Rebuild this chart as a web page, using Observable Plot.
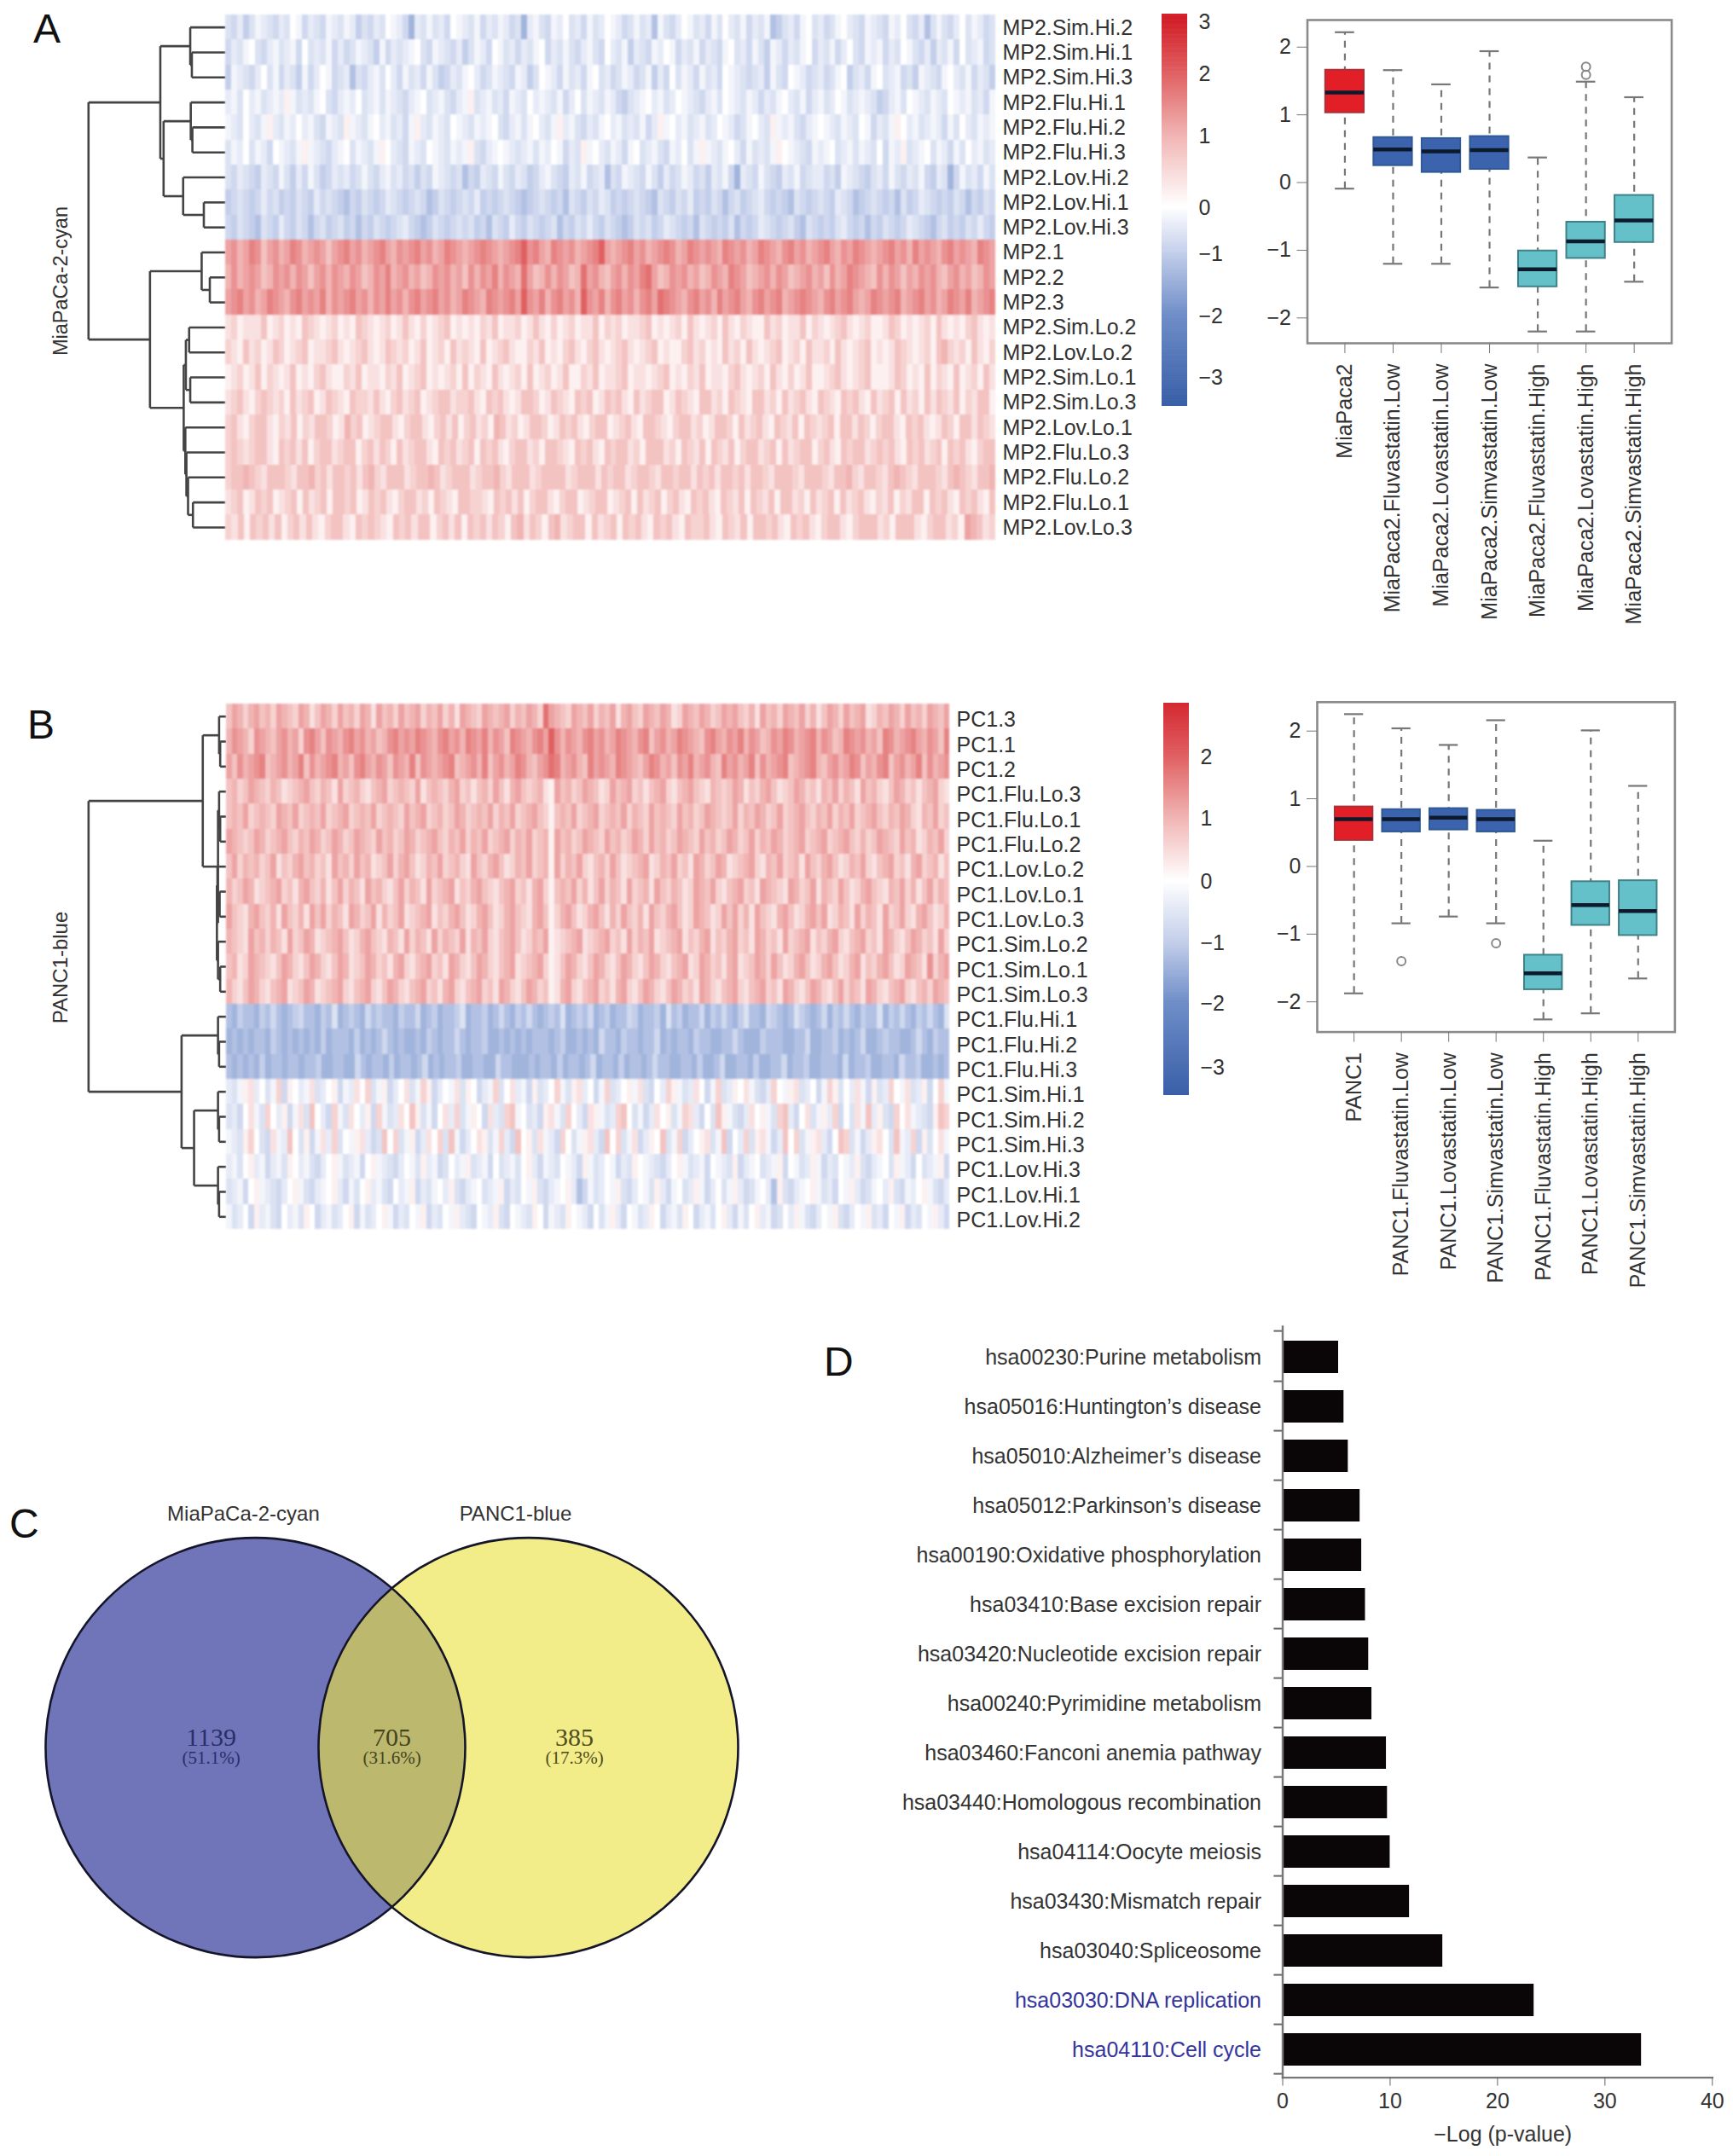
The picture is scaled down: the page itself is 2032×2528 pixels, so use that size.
<!DOCTYPE html>
<html><head><meta charset="utf-8">
<script src="https://cdn.jsdelivr.net/npm/d3@7"></script>
<script src="https://cdn.jsdelivr.net/npm/@observablehq/plot@0.6"></script>
<style>html,body{margin:0;background:#fff}#page{position:relative;width:2032px;height:2528px;overflow:hidden;font-family:"Liberation Sans",sans-serif}
.letter{position:absolute;font-size:48px;line-height:1;color:#111}</style></head><body><div id="page"></div>
<script>
// Heatmap rows: one letter per block of columns; the letter is a level from heatLevels.
// Row levels and prominent stripes are read from the picture; fine stripe texture is a rough by-eye estimate.
const heatLevels = {a:-2,b:-1.8,c:-1.6,d:-1.4,e:-1.2,f:-1,g:-.8,h:-.6,i:-.4,j:-.2,k:0,l:.2,m:.4,n:.6,o:.8,p:1,q:1.2,r:1.4,s:1.6,t:1.8,u:2};
const rowsA = ["MP2.Sim.Hi.2","MP2.Sim.Hi.1","MP2.Sim.Hi.3","MP2.Flu.Hi.1","MP2.Flu.Hi.2","MP2.Flu.Hi.3","MP2.Lov.Hi.2","MP2.Lov.Hi.1","MP2.Lov.Hi.3","MP2.1","MP2.2","MP2.3","MP2.Sim.Lo.2","MP2.Lov.Lo.2","MP2.Sim.Lo.1","MP2.Sim.Lo.3","MP2.Lov.Lo.1","MP2.Flu.Lo.3","MP2.Flu.Lo.2","MP2.Flu.Lo.1","MP2.Lov.Lo.3"];
const rowsB = ["PC1.3","PC1.1","PC1.2","PC1.Flu.Lo.3","PC1.Flu.Lo.1","PC1.Flu.Lo.2","PC1.Lov.Lo.2","PC1.Lov.Lo.1","PC1.Lov.Lo.3","PC1.Sim.Lo.2","PC1.Sim.Lo.1","PC1.Sim.Lo.3","PC1.Flu.Hi.1","PC1.Flu.Hi.2","PC1.Flu.Hi.3","PC1.Sim.Hi.1","PC1.Sim.Hi.2","PC1.Sim.Hi.3","PC1.Lov.Hi.3","PC1.Lov.Hi.1","PC1.Lov.Hi.2"];
const heatA = [
"hgifhjihgi hkjgihgjih jifhgihkji gdihjhigkj ihjgihjigh dijhgjikhi gjhikjighj hiejhgikjh igjhkihjgi hjefhigjkh ighjkihgji hgjikhgieh jhgikhjigh",
"gihjkhgijh ijgkhihjgi ghjihfjgih ijkhgjihgi fhjigkjhig ihjkgihjhg ijhgkihjfi hgjikjgihj gihgjkhigj hfjigihjkg ihjgikhgji jgihkjhgif ihjgkhijgh",
"fjihgikhjg ihfjgikjgh iehgijhkig jhigjhfgih jkighjihgj ifhkjigjhi gjkhighjig hjfigkhjig jhigkjihgh ifjhgkjigh ighjkfhigj khijghfjih gjkihjgihf",
"ijhkijhiji ljhihjkhgi jikhijhjih gijkhijhgi jlhijhigji hkijihjgik hjihjigfhi jkijhikjih gijhkjihji gihjkihjgi jhikjhijih fgijhkjihj ihkjijhigj",
"jihkihjlih jikijhgjih ljihjkijhi gjlihjihkj ihjijkhgij hjkihjlijh gihjkijhih jgiljkijhi jhikjighjk ihljijhgij kjihjihkjg ihjlkijhij igjhkihjij",
"hjikhjigkj ihjljihgij khjihjlkih gjihkjihji jlhgijkjih ijhjikjgih ljkihjigjk hijhgjikhj ljihjkigjh ihjlkjihgj ijkhijhjih kgjilhijkh jigjhkijhi",
"hgihgfihgj hfigjhfgih ighjhgijhi ghfhgjihgh egfihgjhgi hfgijhgfih jghiehgjih gjhfighjig hfihjgdihg jhgfihjghi ighfjihgfh igjhgihjgf ihdgjhigjh",
"fghgfgighf gfhgfighgf egfhgfgihg fghgefhgfg hgifgfghgf efghgfgehg fhgihfgfgh gfehgfhgif gfhgeghfgh igfgfehgfg hgfihgefgh gfgehfgihg fgfhgegfhg",
"gfhgfehgfi gfhgeghfgh fgegfhgfgh igfefhgfgh ghfgehgfig fhgfghegfh gigfhgfefh ghfgihgfge hgfgfhegfg ihgfghfehg fgfhigfgeg fhgfgihgfe ghfgfhgigf",
"qrpqsroqrp qsrpqrqoqr sqrpqrsqpr qrsqrpqsrq pqrsrqpqrs ursqpsrqrp qrsuqpqrsq rpqrsrpqsr qrqpsrqrpq srqprsqrpq rsqprqsrqp qrsqrpsqrq prsqrqpsrq",
"prpqrqoprq rprqoqrprq prqoprqspq rpqoprqrpq orprqsprqp tqoprprqop tqrpoqrprq stqoprqrpq oprqpsrqop qrprqopqrp qorpqsrqpo rprqoqprqr poqrpqoprq",
"qrsqrpqsrq prsqrqsprq rsqrprqsqr prsqrsqrpq srqpsrqrsq urqsprsqrp urqsprsqrp rsqtsrqprs qrpsqrsqpr sqrspqrsrq prsqrsqpqs rqrspqrsqr pqsrqspqrs",
"mnlmmmolmn lmlonmlmnl mlonmlmnlm omlnlmnolm lmlnmolmmn lmomlnlmnl mmolnmnlmm nolmlmnlom lmnlomlnml lomnlmmoln mlmnomlmnl lmonlmlmnl omlmlnomlm",
"nmlomnlmon lmnolmmnom lmnomlmonm nlmolmnlom nmlolmnoml lnmolmlnom lnomlmnoml mnolmllnom nlmlomnlom lmnolmnlom mnlomlmnol mlmonmlmnl opnmnlomln",
"lmnlmolnml molmlnomll nmolmmlnmo lmnolmlmnl olnmlomlmn lolmnlmoll nmolmmnolm mlmnolmlnm olmmlnomlm nlomlnlmol lmnomlmnol llmonlmlol nmlolmnlom",
"mnomlnonmn lomnolmonm lonnmomlno mnolmnoomn nomlonomlm oonlmonmlo nolmonomlo mnoolmonml oomnlonmlo omnlomnoml onmlonomlo mnolomnlom onmolnmool",
"nomlnoomln molnmoonl mpnolmnoom lnoomlnomo lnomnlpomn lmoonlmono mlnoolmnom loonmlnoom nlmoonlomn omlonmolon mnoloomonl noomlonoml monloomonm",
"nonmnoomlo nomolnoomn oolnomonlo mnoomlonom nolonomlno omnloonmlo nomlonoomn looomnlonm olonmolnoo mnolomnool nomlonoomn onomlonomn olonomlnoo",
"nooponmooo nmoopnomoo nomopnmooo mnoopomnoo omnoopnmoo omnoooomno oomonoomn oonmoonoom onomoonomo onmooonmoo onmoopnmoo nmoponmooo nmoponmoop",
"mnolmonolm nolomnoloo nolmonomln oomnlonmlo onnmlonomo lnoomlnool mnoolmnolo mnolnomlon omlonmolo nmoloomnlo mnolomnoml nmolnmoolo nomlonomlo",
"nmolonomol nomomlnoom lononmlono moolnomolo nomonlopm onlopmnool omnolonom lonomlonn omlonmolo onomlonom lnoomlnoo omnlooomln oomnlqpomn"
];
const heatB = [
"oqpnpqopnq ponqpmoqpn qopnqpmqop nqopqnpoqn pmqponqpop qnpoqpntqp onqpoqnpoq mpqonqpoqp mnqpoqpnoq pqonpmqopn qpoqnpmoqp nqopqmnpoq pnqopnqpoq",
"prqpnrqpoq rpqnrsqorq prsqrpqopr sqrqsrqprs qrpsrqsprq osrqprsqur prqprsqrpq srqprsoqrp qsrqporsqp rqsprqoprq srpqrsprqo psrqrpqosr pqrsqprqos",
"qorpqrsopq rpqsorpqrs pqorsqprqo rqpsorqpqr sopqrpsoqr pqsrpoqrts pqrposqrqp srqpoqsrpq orqspqrpos qrpqsorpqr sopqrspoqr pqsroqprso qrpqsorpqr",
"opnoqponpo mnopqonpom qnopnmopqn oponqmopon pqnomopnqo mpqonopmlq opnoqpomnq opqnomopqn mopqonmpon oqpmonpqom noqpnompoq npomqopnmo qpnomopqnm",
"opoqnoponq poqnopoqno pqnopoqnop onqopqnopn oqpnopoqnp oqnopqonlo poqnopqnop oqnponqopo nqopnoqpon oqnpoqpnoq nopqonpoqn poqnopqonp oqpnmpoqno",
"qponoqpnop qonpoqpnoq pnoqponqop noqpnopqon poqnpoqnop qnpoqnoplq opnoqponqo pnoqpnqopn oqponqopno qpnoqnpoqp nopqnopqno pqonpnoqpo nqopmnpoqn",
"oqnpopnoqm onpqopnomq opnqopmnoq npqomnpoqn opnmqonpqo mnpoqnoplq npoqnmopnq omnopqmnpo qnomqpnoqp mnopqnmpoq nopmqonpqo mnpoqnmopq nompqnopmo",
"pnoqpmnopq nompqonpmo qnpomqopnm oqnpomqnop qmonpqonmo pqnompqnlo poqnpmoqnp omqnopmqon pomnqpoqnm opqnomqpon mqpnoqmpon qomnpqonmp oqnpmoqnpo",
"qonmpqonpm qonpmqoqnp omqpnoqmpn oqmnopqmon pqomnpqomn pqonmpqoln pqomnpqomp nqonpmqonp qomnqpomnq oqnpmqonmp qomnpqoqmn pomqnpomqn oqnmpqomnp",
"ponmqopnpo mqnoqpmnop qomnpqonmp omqnpomqnp onqmpoqnmo pqomnpoqlm nopqmnopqn omqnpoqmno pqmonpqmon pqnomqpnom qnopqmonpq nmopqnomqp nmoqpnomqn",
"opmnqponmo qpnmoqpnmo qpmnoqpnom pqnmopqnom qpnmoqpnmo pqmnopqnlm oqpnmoqpnm oqpnmoqpnm opqmnqpnom pqmnoqpnqo mnpqomnpqo mnpqmonpqo mnqpomrnpq",
"pnmoqpnmop qmnoqpmnop qnmopqnmoq pnmopqnomp qnmopqnomq pnmoqpnolm pqnmopqnom pqnmoqpnmo qpnomqpnmo pqnmopqnom qpnmoqpnmo qnpomqpnmo pqnmopnqpo",
"edfeedfege defgeedfeh defedgefee dfeegdefde efhdeefdeg edfegedefe hdefegdefd eegfdeefdh efdeegdfeg edfheedgfe dehfedegdf egedfeehdf egedfegedh",
"dededeedfe dedededfde eedfdedege deddedfede egedeefdde dededeeede fddededgee dfeedeegde deedfeedde egedddfeee ddeegddeef dedegddefe eddegedfee",
"edededfdee deedeefdde eddgedeedf deedegdede efddeeddge edddedeedf deedegdee dfdeedegee ddeedfddeg ddeedfddee gdeefddeee dgdeefddee dgeefddede",
"ihjlmikhjn glkijmhikl gjimknhjlg ikmhjnlgik jmhlkgijnh kmijglhikn jhlmikgjnh ikljmhgkin ljhimkgjnh ilkmjhgink jlmhikgjnl hkimjglhin kjmhilgknj",
"higkmjhnki lgjmhokign jhmkilgnjh imkolhjgkm inhjlkgmih nojkhiglmj hnkigmljhi nokhjgimkl hjnmigkhol jhgimkljhn oigkmhjlin gkhmjoilhg nkmjihglon",
"jihlnkhgmj iokhlgjmin hkjlmighok nhjlgimknh ojgikmlhjn igoklhmjig nkhjlmigok nhjmgilkoh jngiklmhjo gkinhlmjgi oknhjlmigk onhjgilmkh ojinglhkmj",
"ijhklijgij hlkijhgikl jhijgkljih gikjhlijgh kijlhijgkh ijhkligjih kjigljhikj gihlkjihgi kljhijgkji hlgijkhijl gkjhiljgih kjilhgijkh ljigkhijlg",
"hijgkljihg ikljhgijkl igjhklijhg kijlgihjki lhgijkhijl gihkjlhgij kliegjhikj lhgikjhlig jkhiljgikh jlighjkiel hgijkljhig kjlighjkil hgjikljhgi",
"jhikglijhg kijhlkgijh iklgjhiklj gihkjlgihk jlihgkjilh gkjihlkgji hlkjigkhjl igkjhilkgi jhlkgijhkl igjhklijgh kiljhgikjl hgikjlhigk jlgihkjlig"
];
const colorStops = [-3.45,-2,-1,0,1,2,3];
const colorRange = ["#3a5fa8","#6f8ec8","#c3ceea","#ffffff","#f0b4b3","#e06062","#d3202a"];
const barTicks = [-3,-2,-1,0,1,2,3];
const barA = {values:[3.15,3,2,1,0,-1,-2,-3,-3.48], pos:[0,9,70,143,227,281,354,426,460]};
const barB = {values:[2.875,2,1,0,-1,-2,-3,-3.44], pos:[0,63,135,209,281,352,427,460]};
// Dendrograms: [merge height, child, child]; a bare number is a row index.
const treeA = [252,[120,[65,0,[62,1,2]],[114,[64,3,[61,4,5]],[78,6,[40,7,8]]]],[139,[44,9,[29,10,11]],[77,[73,[67,12,13],[65,14,15]],[74,16,[72,17,[69,18,[60,19,20]]]]]]];
const treeB = [253,[43,[13,0,[11,1,2]],[15,[13,3,[11,4,5]],[17,[16,6,[12,7,8]],[15,9,[11,10,11]]]]],[82,[15,12,[13,13,14]],[59,[15,15,[13,16,17]],[15,18,[13,19,20]]]]];
// Box plots
const boxNamesA = ["MiaPaca2","MiaPaca2.Fluvastatin.Low","MiaPaca2.Lovastatin.Low","MiaPaca2.Simvastatin.Low","MiaPaca2.Fluvastatin.High","MiaPaca2.Lovastatin.High","MiaPaca2.Simvastatin.High"];
const hiA=[2.22,1.66,1.45,1.94,.37,1.49,1.26], q3A=[1.66,.665,.65,.68,-1.01,-.585,-.19], medA=[1.33,.49,.46,.48,-1.28,-.87,-.56], q1A=[1.03,.25,.15,.195,-1.54,-1.12,-.885], loA=[-.09,-1.2,-1.2,-1.55,-2.2,-2.2,-1.465];
const outA=[[6,1.71],[6,1.59]];
const boxNamesB = ["PANC1","PANC1.Fluvastatin.Low","PANC1.Lovastatin.Low","PANC1.Simvastatin.Low","PANC1.Fluvastatin.High","PANC1.Lovastatin.High","PANC1.Simvastatin.High"];
const hiB=[2.25,2.04,1.795,2.16,.38,2.01,1.19], q3B=[.88,.84,.855,.83,-1.31,-.225,-.21], medB=[.7,.7,.72,.7,-1.58,-.57,-.66], q1B=[.385,.51,.54,.51,-1.82,-.87,-1.02], loB=[-1.875,-.84,-.74,-.84,-2.26,-2.17,-1.655];
const outB=[[2,-1.4],[4,-1.135]];
const boxColors=["#e21f26","#3b63ae","#3b63ae","#3b63ae","#64c1ca","#64c1ca","#64c1ca"];
const boxEdges=["#a8323a","#2f5a96","#2f5a96","#2f5a96","#3f8288","#3f8288","#3f8288"];
// Venn
const vennSets=["MiaPaCa-2-cyan","PANC1-blue"];
const vennCounts=["1139","705","385"], vennShares=["(51.1%)","(31.6%)","(17.3%)"];
// Pathways
const pathways=["hsa00230:Purine metabolism","hsa05016:Huntington\u2019s disease","hsa05010:Alzheimer\u2019s disease","hsa05012:Parkinson\u2019s disease","hsa00190:Oxidative phosphorylation","hsa03410:Base excision repair","hsa03420:Nucleotide excision repair","hsa00240:Pyrimidine metabolism","hsa03460:Fanconi anemia pathway","hsa03440:Homologous recombination","hsa04114:Oocyte meiosis","hsa03430:Mismatch repair","hsa03040:Spliceosome","hsa03030:DNA replication","hsa04110:Cell cycle"];
const logP=[5.2,5.7,6.1,7.2,7.35,7.7,8,8.3,9.65,9.75,10,11.8,14.9,23.4,33.4];
const bluePathways=["hsa03030:DNA replication","hsa04110:Cell cycle"];

const page=document.getElementById("page");
const FONT='"Liberation Sans",sans-serif', TXT="#333";
const svgStyle={fontFamily:FONT,background:"none",overflow:"visible",maxWidth:"none"};
function place(el,left,top){el.style.position="absolute";el.style.left=left+"px";el.style.top=top+"px";page.appendChild(el);}
function letter(t,x,y){const d=document.createElement("div");d.className="letter";d.textContent=t;d.style.left=x+"px";d.style.top=y+"px";page.appendChild(d);}

function heatCells(strings){
  const out=[];
  strings.forEach((s,r)=>{const c=s.replace(/ /g,"");[...c].forEach((ch,i)=>out.push({r,x1:i/c.length,x2:(i+1)/c.length,v:heatLevels[ch]}));});
  return out;
}
function heatmap(strings,n,W,H){
  return Plot.plot({width:W,height:H,margin:0,axis:null,style:{...svgStyle,filter:"blur(1px)"},
    x:{domain:[0,1],round:true},y:{domain:[n,0],round:true},
    color:{type:"linear",domain:colorStops,range:colorRange,clamp:true},
    marks:[Plot.rect(heatCells(strings),{x1:"x1",x2:"x2",y1:"r",y2:d=>d.r+1,fill:"v"})]});
}
function rowLabels(labels,H,dy){
  return Plot.plot({width:200,height:H,margin:0,axis:null,style:svgStyle,
    x:{domain:[0,1]},y:{domain:[labels.length,0]},
    marks:[Plot.text(labels,{x:0,y:(d,i)=>i+.5,text:d=>d,textAnchor:"start",dy,fontSize:25,fill:TXT})]});
}
function dendro(tree,W,H){
  const segs=[];
  const walk=n=>{
    if(typeof n==="number")return{h:0,y:n+.5};
    const a=walk(n[1]),b=walk(n[2]),h=n[0];
    segs.push({x1:h,y1:a.y,x2:h,y2:b.y},{x1:h,y1:a.y,x2:a.h,y2:a.y},{x1:h,y1:b.y,x2:b.h,y2:b.y});
    return{h,y:(a.y+b.y)/2};
  };
  walk(tree);
  return Plot.plot({width:W,height:H,margin:0,axis:null,style:svgStyle,
    x:{domain:[W*1.568,0]},y:{domain:[21,0]},
    marks:[Plot.link(segs,{x1:"x1",y1:"y1",x2:"x2",y2:"y2",stroke:"#444",strokeWidth:2.6})]});
}
function colorBar(bar,H){
  const vmin=d3.min(bar.values),vmax=d3.max(bar.values),steps=d3.range(vmin,vmax,.02);
  const yOf=d3.scaleLinear().domain(bar.values).range(bar.pos);
  return Plot.plot({width:100,height:H,margin:0,axis:null,style:svgStyle,
    x:{type:"identity"},y:{type:"identity"},
    color:{type:"linear",domain:colorStops,range:colorRange,clamp:true},
    marks:[
      Plot.rect(steps,{x1:0,x2:30,y1:d=>yOf(d),y2:d=>yOf(Math.min(d+.03,vmax)),fill:d=>d}),
      Plot.text(barTicks.filter(t=>t<=vmax),{x:43,y:d=>yOf(d),text:d=>d<0?"\u2212"+(-d):String(d),textAnchor:"start",fontSize:25,fill:TXT})
    ]});
}
function boxes(names,hi,q3,med,q1,lo,out,W,H,m,dom){
  const data=names.map((n,i)=>({pos:i+1,n,hi:hi[i],q3:q3[i],med:med[i],q1:q1[i],lo:lo[i],fill:boxColors[i],edge:boxEdges[i]}));
  return Plot.plot({width:W,height:H,marginLeft:m[0],marginTop:m[1],marginRight:m[2],marginBottom:m[3],style:svgStyle,
    x:{domain:[.223,7.777],label:null},y:{domain:dom,label:null},
    marks:[
      Plot.ruleX(data,{x:"pos",y1:"lo",y2:"hi",stroke:"#777",strokeWidth:2.2,strokeDasharray:"8,7"}),
      Plot.ruleY(data,{y:"hi",x1:d=>d.pos-.2,x2:d=>d.pos+.2,stroke:"#777",strokeWidth:2.2}),
      Plot.ruleY(data,{y:"lo",x1:d=>d.pos-.2,x2:d=>d.pos+.2,stroke:"#777",strokeWidth:2.2}),
      Plot.rect(data,{x1:d=>d.pos-.4,x2:d=>d.pos+.4,y1:"q1",y2:"q3",fill:"fill",stroke:"edge",strokeWidth:2}),
      Plot.ruleY(data,{y:"med",x1:d=>d.pos-.4,x2:d=>d.pos+.4,stroke:"#0c1a2c",strokeWidth:4.5}),
      Plot.dot(out,{x:d=>d[0],y:d=>d[1],r:5,stroke:"#888",strokeWidth:2,fill:"none"}),
      Plot.frame({stroke:"#8a8a8a",strokeWidth:2.6}),
      Plot.axisY({ticks:[-2,-1,0,1,2],tickFormat:"d",tickSize:12,tickPadding:7,fontSize:25,stroke:"#777",fill:TXT,label:null}),
      Plot.axisX({ticks:[1,2,3,4,5,6,7],tickFormat:d=>names[d-1],tickRotate:-90,tickSize:12,tickPadding:12,fontSize:25,stroke:"#777",fill:TXT,label:null})
    ]});
}
function venn(){
  const circles=[{x:0,fill:"#6f75b8",op:1},{x:1,fill:"rgb(236,226,64)",op:.62}];
  const regions=[{x:-.1625,c:"#2b2d6b"},{x:.5,c:"#45441f"},{x:1.169,c:"#4e4c1c"}].map((d,i)=>({...d,n:vennCounts[i],s:vennShares[i]}));
  return Plot.plot({width:950,height:600,margin:0,axis:null,style:svgStyle,
    x:{domain:[0,1],range:[299,619]},y:{domain:[0,1],range:[308.6,408.6]},
    marks:[
      Plot.dot(circles,{x:"x",y:0,r:246,fill:"fill",fillOpacity:"op",stroke:"none"}),
      Plot.dot(circles,{x:"x",y:0,r:246,fill:"none",stroke:"#15152a",strokeWidth:2.6}),
      Plot.text(regions,{x:"x",y:0,dy:-11.6,text:"n",fontFamily:"Liberation Serif",fontSize:30,fill:"c"}),
      Plot.text(regions,{x:"x",y:0,dy:12.4,text:"s",fontFamily:"Liberation Serif",fontSize:21,fill:"c"}),
      Plot.text(vennSets,{x:(d,i)=>[-.044,.953][i],y:0,dy:-273.6,text:d=>d,fontSize:24,fill:TXT})
    ]});
}
function bars(){
  const data=pathways.map((p,i)=>({p,v:logP[i]}));
  return Plot.plot({width:1082,height:988,marginLeft:553.5,marginRight:24.7,marginTop:15,marginBottom:92.4,style:svgStyle,
    x:{domain:[0,40],label:null},y:{domain:pathways,paddingInner:.34,paddingOuter:.17,align:.568,label:null,axis:null},
    marks:[
      Plot.barX(data,{x:"v",y:"p",fill:"#0a0608"}),
      Plot.ruleY(data,{y:"p",x1:-.8,x2:0,dy:28.1,stroke:"#666",strokeWidth:2}),
      Plot.ruleY(data.slice(0,1),{y:"p",x1:-.8,x2:0,dy:-30.9,stroke:"#666",strokeWidth:2}),
      Plot.frame({anchor:"left",stroke:"#777",strokeWidth:2.4}),
      Plot.frame({anchor:"bottom",stroke:"#777",strokeWidth:2.4}),
      Plot.text(data,{x:0,y:"p",dx:-25,text:"p",textAnchor:"end",fontSize:25,fill:d=>bluePathways.includes(d.p)?"#34349a":TXT}),
      Plot.axisX({ticks:[0,10,20,30,40],anchor:"bottom",tickSize:10,tickPadding:8,fontSize:25,stroke:"#666",fill:TXT,label:null}),
      Plot.text(["\u2212Log (p-value)"],{x:20.5,frameAnchor:"bottom",dy:75,text:d=>d,fontSize:25,fill:TXT})
    ]});
}
function sideLabel(t,size){return Plot.plot({width:60,height:300,margin:0,axis:null,style:svgStyle,x:{domain:[0,1]},y:{domain:[0,1]},marks:[Plot.text([t],{x:.5,y:.5,text:d=>d,rotate:-90,fontSize:size,fill:TXT})]});}
// Panel A
place(dendro(treeA,264,615.6),0,17);
place(heatmap(heatA,rowsA.length,903,615.6),264,17);
place(rowLabels(rowsA,615.6,.5),1175,17);
place(colorBar(barA,460.5),1362,16);
place(boxes(boxNamesA,hiA,q3A,medA,q1A,loA,outA,560,760,[92.5,23,40.4,358],[-2.374,2.4]),1440,0);
// Panel B
place(dendro(treeB,264.7,616),0,824.5);
place(heatmap(heatB,rowsB.length,848.3,616),264.7,824.5);
place(rowLabels(rowsB,616,4),1120.5,824.5);
place(colorBar(barB,460),1364,824);
place(boxes(boxNamesB,hiB,q3B,medB,q1B,loB,outB,560,760,[104,22.8,36.6,350.4],[-2.446,2.427]),1440,800);
place(sideLabel("MiaPaCa-2-cyan",23.5),41,179);
place(sideLabel("PANC1-blue",24),41,984);
place(venn(),0,1740);
place(bars(),950,1540);
letter("A",39,10);letter("B",32,826);letter("C",11,1763);letter("D",966,1573);
</script></body></html>
